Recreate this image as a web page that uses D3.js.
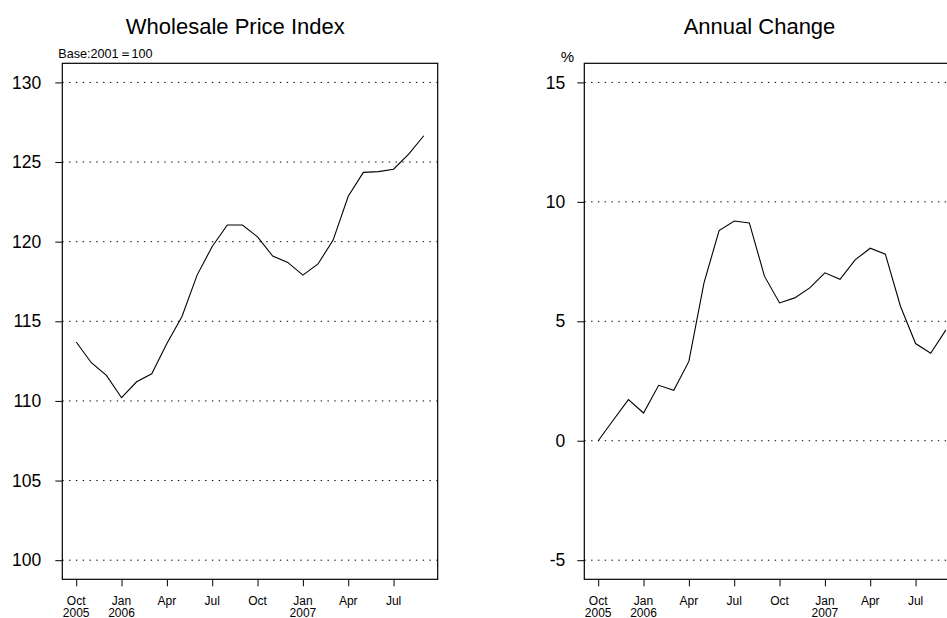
<html>
<head>
<meta charset="utf-8">
<script src="https://cdn.jsdelivr.net/npm/d3@7"></script>
<style>
  body { margin: 0; background: #fff; }
  svg { font-family: "Liberation Sans", Arial, Helvetica, sans-serif; }
  .grid line { stroke: #000; stroke-dasharray: 1.4,5.4; stroke-width: 1; }
  .axis path { display: none; }
  .axis line { stroke: #000; }
</style>
</head>
<body>
<svg width="947" height="618"></svg>
<script>
// months from Oct 2005 to Sep 2007
var months = ["2005-10","2005-11","2005-12","2006-01","2006-02","2006-03","2006-04","2006-05",
              "2006-06","2006-07","2006-08","2006-09","2006-10","2006-11","2006-12","2007-01",
              "2007-02","2007-03","2007-04","2007-05","2007-06","2007-07","2007-08","2007-09"];

// wholesale price index (2001 = 100)
var wpi = [113.7, 112.4, 111.6, 110.2, 111.2, 111.7, 113.6, 115.3,
           117.9, 119.7, 121.05, 121.05, 120.3, 119.1, 118.7, 117.9,
           118.6, 120.1, 122.85, 124.35, 124.4, 124.55, 125.5, 126.65];

// annual change, %
var annualChange = [0.0, 0.87, 1.72, 1.16, 2.32, 2.11, 3.32, 6.61,
                    8.80, 9.20, 9.12, 6.89, 5.77, 5.98, 6.40, 7.03,
                    6.76, 7.57, 8.06, 7.81, 5.63, 4.07, 3.66, 4.63];

// x tick labels (month index -> two-line label)
var xTickIdx = [0, 3, 6, 9, 12, 15, 18, 21];
var xTickLabels = [["Oct","2005"],["Jan","2006"],["Apr",""],["Jul",""],
                   ["Oct",""],["Jan","2007"],["Apr",""],["Jul",""]];

var wpiTicks = [100, 105, 110, 115, 120, 125, 130];
var changeTicks = [-5, 0, 5, 10, 15];

var svg = d3.select("svg");

function panel(opt) {
    var x = d3.scaleLinear().domain([-0.92, 23.92]).range([opt.left, opt.left + 375.4]);
    var y = d3.scaleLinear().domain(opt.yDomain).range([579.3, 63.3]);
    var g = svg.append("g");

    // dotted grid
    g.append("g").attr("class", "grid")
        .selectAll("line").data(opt.ticks).enter().append("line")
        .attr("x1", x.range()[0]).attr("x2", x.range()[1])
        .attr("y1", function (d) { return y(d); })
        .attr("y2", function (d) { return y(d); });

    // y axis
    var ya = g.append("g").attr("class", "axis")
        .attr("transform", "translate(" + x.range()[0] + ",0)")
        .call(d3.axisLeft(y).tickValues(opt.ticks).tickSize(7).tickPadding(opt.pad)
            .tickFormat(function (d) { return String(d); }));
    ya.selectAll("text").attr("font-size", "17.5px").attr("fill", "#000")
        .attr("font-family", null);

    // x axis
    g.append("g").attr("class", "axis")
        .attr("transform", "translate(0,579.3)")
        .call(d3.axisBottom(x).tickValues(xTickIdx).tickSize(7).tickFormat(""));
    xTickIdx.forEach(function (t, i) {
        g.append("text").attr("text-anchor", "middle").attr("font-size", "12px")
            .attr("x", x(t)).attr("y", 604.5).text(xTickLabels[i][0]);
        if (xTickLabels[i][1]) {
            g.append("text").attr("text-anchor", "middle").attr("font-size", "12px")
                .attr("x", x(t)).attr("y", 616.8).text(xTickLabels[i][1]);
        }
    });

    // box
    g.append("rect")
        .attr("x", x.range()[0]).attr("y", 63.3)
        .attr("width", x.range()[1] - x.range()[0]).attr("height", 579.3 - 63.3)
        .attr("fill", "none").attr("stroke", "#000").attr("stroke-width", 1.2);

    // series line
    g.append("path").datum(opt.values)
        .attr("fill", "none").attr("stroke", "#000").attr("stroke-width", 1.1)
        .attr("d", d3.line().x(function (d, i) { return x(i); }).y(function (d) { return y(d); }));

    // title and unit note
    g.append("text").attr("x", opt.titleX).attr("y", 33.5).attr("text-anchor", "middle")
        .attr("font-size", "22px").text(opt.title);
    g.append("text").attr("x", opt.noteX).attr("y", opt.noteY).attr("text-anchor", opt.noteAnchor)
        .attr("font-size", opt.noteSize).text(opt.note);
}

panel({ left: 62.3, yDomain: [98.8, 131.2], ticks: wpiTicks, values: wpi, pad: 14,
        title: "Wholesale Price Index", titleX: 235.3,
        note: "Base:2001\uFF1D100", noteX: 58.3, noteY: 58.3, noteAnchor: "start", noteSize: "12.6px" });

panel({ left: 584.3, yDomain: [-5.8, 15.8], ticks: changeTicks, values: annualChange, pad: 12,
        title: "Annual Change", titleX: 759.5,
        note: "%", noteX: 567.3, noteY: 62, noteAnchor: "middle", noteSize: "15px" });
</script>
</body>
</html>
